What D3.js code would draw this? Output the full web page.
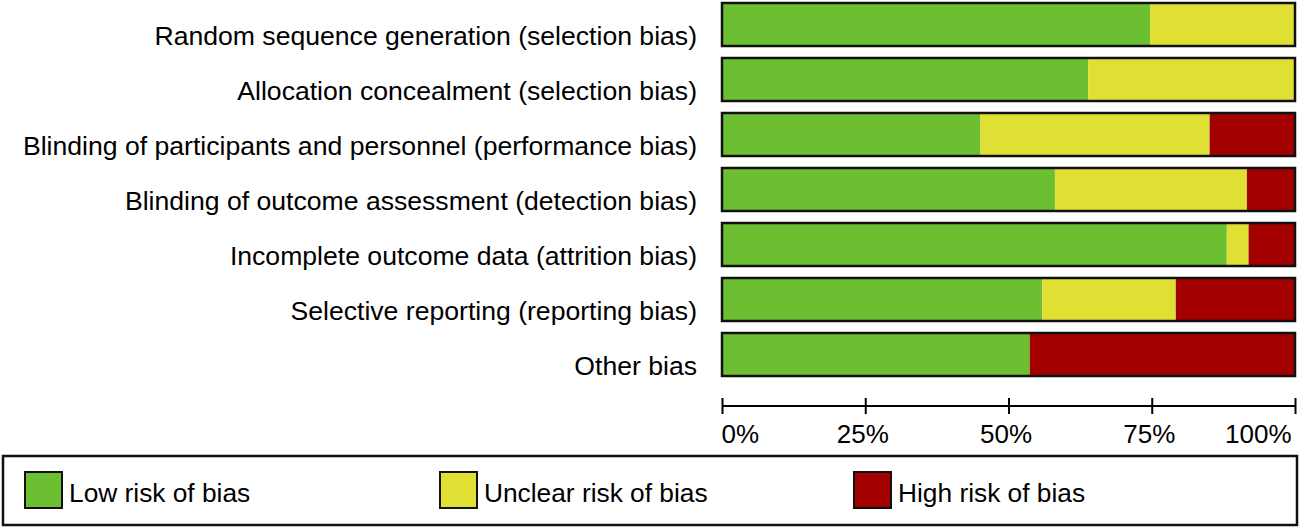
<!DOCTYPE html>
<html>
<head>
    <style>
        body {
            margin: 0;
            background: #fff;
        }
        svg text {
            font-family: "Liberation Sans", Arial, sans-serif;
            fill: #000;
        }
    </style>
</head>
<body>
    <svg width="1301" height="529"></svg>

    <script src="https://d3js.org/d3.v7.min.js"></script>
    <script>
        // Risk of bias domains (top to bottom) and percentages per judgement
        const domains = [
            "Random sequence generation (selection bias)",
            "Allocation concealment (selection bias)",
            "Blinding of participants and personnel (performance bias)",
            "Blinding of outcome assessment (detection bias)",
            "Incomplete outcome data (attrition bias)",
            "Selective reporting (reporting bias)",
            "Other bias"
        ];
        const lowRisk     = [74.7, 63.9, 45.1, 58.1, 88.1, 55.9, 53.7];
        const unclearRisk = [25.3, 36.1, 40.0, 33.5, 3.8, 23.3, 0];
        const highRisk    = [0, 0, 14.9, 8.4, 8.1, 20.8, 46.3];

        const tickValues = [0, 25, 50, 75, 100];
        const tickLabels = ["0%", "25%", "50%", "75%", "100%"];

        const legendLabels = ["Low risk of bias", "Unclear risk of bias", "High risk of bias"];
        const keys = ["low", "unclear", "high"];
        const colors = ["#6cbf30", "#e0e034", "#a30000"];

        const svg = d3.select("svg");

        const rows = domains.map((d, i) => ({
            domain: d,
            low: lowRisk[i],
            unclear: unclearRisk[i],
            high: highRisk[i]
        }));

        const x = d3.scaleLinear().domain([0, 100]).range([722, 1295]);
        const y = d3.scaleBand()
            .domain(domains)
            .range([3, 376])
            .paddingInner(12 / 55)
            .paddingOuter(0);
        const color = d3.scaleOrdinal().domain(keys).range(colors);

        const series = d3.stack().keys(keys)(rows);

        // stacked segments
        svg.append("g")
            .selectAll("g")
            .data(series)
            .join("g")
            .attr("fill", d => color(d.key))
            .selectAll("rect")
            .data(d => d)
            .join("rect")
            .attr("x", d => x(d[0]))
            .attr("y", d => y(d.data.domain))
            .attr("width", d => x(d[1]) - x(d[0]))
            .attr("height", y.bandwidth());

        // bar outlines
        svg.append("g")
            .selectAll("rect")
            .data(rows)
            .join("rect")
            .attr("x", x(0))
            .attr("y", d => y(d.domain))
            .attr("width", x(100) - x(0))
            .attr("height", y.bandwidth())
            .attr("fill", "none")
            .attr("stroke", "#111")
            .attr("stroke-width", 2.5);

        // domain labels
        svg.append("g")
            .selectAll("text")
            .data(rows)
            .join("text")
            .attr("x", 697)
            .attr("y", d => y(d.domain) + 42)
            .attr("text-anchor", "end")
            .attr("font-size", 26.6)
            .text(d => d.domain);

        // x axis
        const axis = svg.append("g")
            .attr("transform", "translate(0,406)")
            .call(d3.axisBottom(x)
                .tickValues(tickValues)
                .tickSize(8)
                .tickFormat((d, i) => tickLabels[i]));

        axis.select(".domain").attr("d", `M${x(0)},0H${x(100)}`)
            .attr("stroke", "#000").attr("stroke-width", 2);
        axis.selectAll(".tick line")
            .attr("y1", -8).attr("y2", 8)
            .attr("stroke", "#000").attr("stroke-width", 2);
        axis.selectAll(".tick text")
            .attr("y", 37)
            .attr("dy", null)
            .attr("font-size", 26)
            .attr("font-family", null)
            .attr("fill", "#000")
            .attr("text-anchor", (d, i) => i === 0 ? "start" : i === tickValues.length - 1 ? "end" : "middle")
            .attr("dx", (d, i) => i === 0 ? -1 : i === tickValues.length - 1 ? -4 : -3);

        // legend
        const legend = svg.append("g");
        legend.append("rect")
            .attr("x", 3).attr("y", 456)
            .attr("width", 1294).attr("height", 69)
            .attr("fill", "none")
            .attr("stroke", "#111")
            .attr("stroke-width", 2.5);

        const legendX = [25, 440, 854];
        const item = legend.selectAll("g.item")
            .data(legendLabels)
            .join("g")
            .attr("class", "item")
            .attr("transform", (d, i) => `translate(${legendX[i]},472)`);
        item.append("rect")
            .attr("width", 37).attr("height", 36)
            .attr("fill", (d, i) => colors[i])
            .attr("stroke", "#111")
            .attr("stroke-width", 2);
        item.append("text")
            .attr("x", 44).attr("y", 30)
            .attr("font-size", 26.3)
            .text(d => d);
    </script>
</body>
</html>
